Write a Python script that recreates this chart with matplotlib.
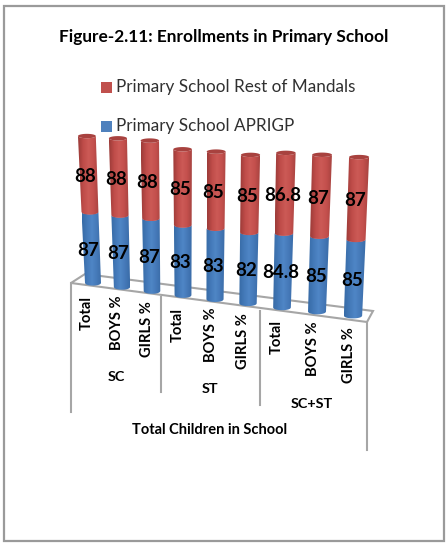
import numpy as np
import matplotlib
matplotlib.use('Agg')
import matplotlib.pyplot as plt
from matplotlib.patches import Polygon, Rectangle
from matplotlib.colors import LinearSegmentedColormap

plt.rcParams['font.family'] = ['Lato', 'DejaVu Sans']

# data
title = 'Figure-2.11: Enrollments in Primary School'
categories = ['Total', 'BOYS %', 'GIRLS %'] * 3
groups = ['SC', 'ST', 'SC+ST']
axis_title = 'Total Children in School'
series_names = ['Primary School Rest of Mandals', 'Primary School APRIGP']
aprigp = [87, 87, 87, 83, 83, 82, 84.8, 85, 85]
rest = [88, 88, 88, 85, 85, 85, 86.8, 87, 87]
aprigp_labels = ['87', '87', '87', '83', '83', '82', '84.8', '85', '85']
rest_labels = ['88', '88', '88', '85', '85', '85', '86.8', '87', '87']

W, H = 446, 543
fig = plt.figure(figsize=(W / 100, H / 100), dpi=100)
ax = fig.add_axes([0, 0, 1, 1])
ax.set_xlim(0, W)
ax.set_ylim(H, 0)
ax.axis('off')

# outer frame
ax.add_patch(Rectangle((3.5, 5.5), 440, 535.5, fc='white', ec='#9a9a9a', lw=1.6))

ax.text(224, 37, title, ha='center', va='center', fontsize=12.4, fontweight='bold', color='black')

# legend
leg_y = [87, 126]
leg_col = ['#C0504D', '#4F81BD']
for yy, c, name in zip(leg_y, leg_col, series_names):
    ax.add_patch(Rectangle((101, yy - 5.5), 11, 11, fc=c, ec='none'))
    ax.text(116, yy, name, ha='left', va='center', fontsize=12.35, color='#303030')

line = '#a6a6a6'
# floor
ax.add_patch(Polygon([(71, 283), (85, 274), (373, 311), (367, 322)], closed=True, fc='white', ec=line, lw=1.5, zorder=1))
# category dividers
for x0, y0, y1 in [(71, 283, 412), (161, 297, 392), (260, 311, 405), (367, 322, 450)]:
    ax.plot([x0, x0], [y0, y1], color=line, lw=1.5, zorder=1)

red_cm = LinearSegmentedColormap.from_list('r', ['#9c3b38', '#bf4c49', '#cc5a56', '#c4504d', '#a84340'])
blue_cm = LinearSegmentedColormap.from_list('b', ['#376ba6', '#4379b8', '#4f86c6', '#4579b8', '#3a6ca8'])
grad = np.linspace(0, 1, 64).reshape(1, -1)


# perspective of the 3d chart: value -> pixel
def to_y(i, v):
    base = 283 + i * 4.1
    return base - v * (0.792 + 0.000273 * v) * (1 + 0.0125 * i)


def to_x(i, v):
    bottom = 93 + 29 * i + 0.5 * i * (i - 1)
    top = 87 + 31 * i + 0.43 * i * (i - 1)
    return bottom + (top - bottom) * v / 172


def half_w(i, v):
    return 8 + i * 0.14 + 0.9 * v / 172


def segment(i, v0, v1, cmap, z):
    # body of cylinder with round ends, clipped gradient
    t = np.linspace(-1, 1, 30)
    x0, x1 = to_x(i, v0), to_x(i, v1)
    w0, w1 = half_w(i, v0), half_w(i, v1)
    y0, y1 = to_y(i, v0), to_y(i, v1)
    low = [(x0 + w0 * a, y0 + 2.6 * np.sqrt(1 - a * a)) for a in t]
    up = [(x1 + w1 * a, y1 + 2.2 * np.sqrt(1 - a * a)) for a in t[::-1]]
    poly = Polygon(low + up, closed=True, fc='none', ec='none', zorder=z)
    ax.add_patch(poly)
    left = min(x0 - w0, x1 - w1)
    right = max(x0 + w0, x1 + w1)
    im = ax.imshow(grad, cmap=cmap, extent=(left, right, y0 + 3, y1 - 3), aspect='auto', zorder=z)
    im.set_clip_path(poly)


for i in range(len(categories)):
    b = aprigp[i]
    total = aprigp[i] + rest[i]
    segment(i, 0, b, blue_cm, 2 + i * 0.01)
    segment(i, b, total, red_cm, 2.5 + i * 0.01)
    # top cap
    xt, yt, wt = to_x(i, total), to_y(i, total), half_w(i, total)
    a = np.linspace(0, 2 * np.pi, 50)
    ax.add_patch(Polygon(np.c_[xt + wt * np.cos(a), yt + 2.2 * np.sin(a)], closed=True,
                         fc='#a8423f', ec='none', zorder=3))
    # data labels
    off = -3 + 0.1 * i
    ax.text(to_x(i, b * 0.5) + off, to_y(i, b * 0.5) + 2, aprigp_labels[i], ha='center', va='center',
            fontsize=13.5, fontweight='bold', color='black', zorder=5)
    ax.text(to_x(i, b + rest[i] * 0.5) + off, to_y(i, b + rest[i] * 0.5) + 2, rest_labels[i], ha='center',
            va='center', fontsize=13.5, fontweight='bold', color='black', zorder=5)

# category labels
cat_x = [87, 117, 147, 178, 211, 243, 277, 313, 349]
cat_end = [330, 350, 357, 342, 362, 369, 354, 376, 383]
for x, y, c in zip(cat_x, cat_end, categories):
    ax.text(x, y, c, rotation=90, ha='center', va='bottom', fontsize=10.6, fontweight='bold', color='black')

for x, y, g in zip([116, 210, 312], [377, 389, 404], groups):
    ax.text(x, y, g, ha='center', va='center', fontsize=10.4, fontweight='bold', color='black')
ax.text(210, 430, axis_title, ha='center', va='center', fontsize=10.5, fontweight='bold', color='black')

fig.savefig('out.png', dpi=100)
